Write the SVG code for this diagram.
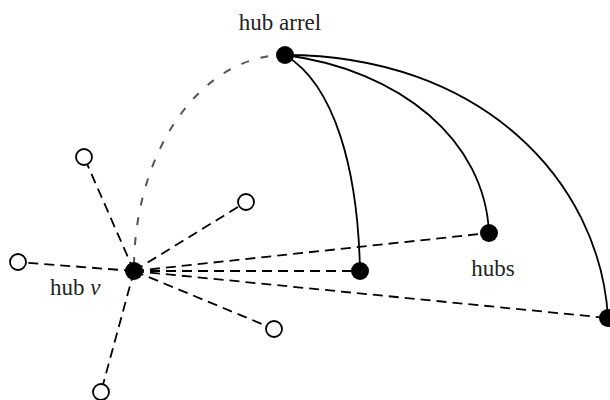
<svg xmlns="http://www.w3.org/2000/svg" width="610" height="400" viewBox="0 0 610 400">
<style>
.dash{fill:none;stroke:#000;stroke-width:1.8;stroke-dasharray:10 6}
.gray{fill:none;stroke:#555;stroke-width:2;stroke-dasharray:8 12}
.solid{fill:none;stroke:#000;stroke-width:1.8}
.hub{fill:#000}
.leaf{fill:#fff;stroke:#000;stroke-width:1.8}
text{font-family:"Liberation Serif","DejaVu Serif",serif;font-size:23px;fill:#222}
</style>
<rect width="610" height="400" fill="#fff"/>
<g id="connectors">
<path class="gray" d="M134,265 A151 214 0 0 1 280,55"/>
<line class="dash" x1="134" y1="271" x2="84" y2="157"/>
<line class="dash" x1="134" y1="271" x2="246" y2="202"/>
<line class="dash" x1="134" y1="271" x2="18" y2="262"/>
<line class="dash" x1="134" y1="271" x2="274" y2="329"/>
<line class="dash" x1="134" y1="271" x2="101" y2="392"/>
<line class="dash" x1="134" y1="271" x2="360" y2="271"/>
<line class="dash" x1="134" y1="271" x2="489" y2="233"/>
<line class="dash" x1="134" y1="271" x2="608" y2="318"/>
<path class="solid" d="M285,55 C335,85 358,170 360,271"/>
<path class="solid" d="M285,55 C400,70 485,140 489,233"/>
<path class="solid" d="M285,55 C480,55 600,180 608,318"/>
</g>
<g id="hub-v"><circle class="hub" cx="134" cy="271" r="9"/><text x="50" y="295">hub <tspan font-style="italic">v</tspan></text></g>
<g id="hub-arrel"><circle class="hub" cx="285" cy="55" r="9"/><text x="280" y="30" text-anchor="middle">hub arrel</text></g>
<g id="hub1"><circle class="hub" cx="360" cy="271" r="9"/></g>
<g id="hub2"><circle class="hub" cx="489" cy="233" r="9"/></g>
<g id="hub3"><circle class="hub" cx="608" cy="318" r="9"/></g>
<g id="hubs-label"><text x="493" y="276" text-anchor="middle">hubs</text></g>
<g id="leaf1"><circle class="leaf" cx="84" cy="157" r="8"/></g>
<g id="leaf2"><circle class="leaf" cx="246" cy="202" r="8"/></g>
<g id="leaf3"><circle class="leaf" cx="18" cy="262" r="8"/></g>
<g id="leaf4"><circle class="leaf" cx="274" cy="329" r="8"/></g>
<g id="leaf5"><circle class="leaf" cx="101" cy="392" r="8"/></g>
</svg>
